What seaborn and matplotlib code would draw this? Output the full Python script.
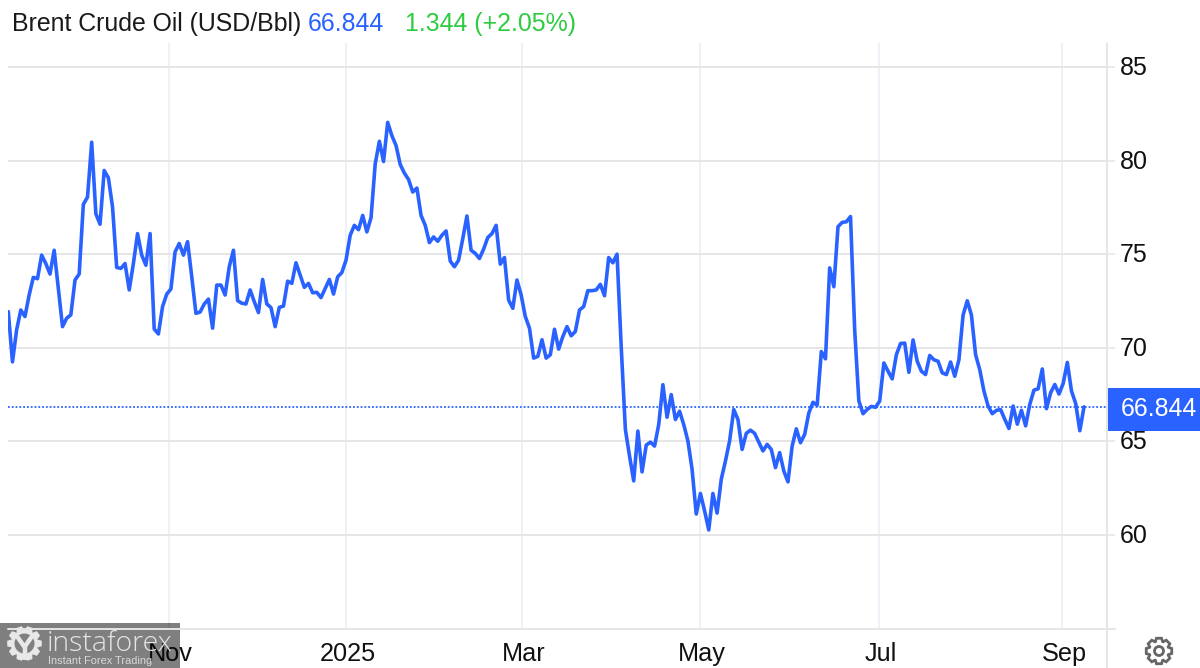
import numpy as np
import matplotlib
matplotlib.use('Agg')
import matplotlib.pyplot as plt
from matplotlib.patches import Rectangle, Polygon, Circle
from matplotlib.transforms import ScaledTranslation
import seaborn as sns

# Daily Brent close (trading days, oldest first)
prices = [
    71.93, 69.25, 70.96, 72.02, 71.67, 72.82, 73.76, 73.69, 74.95, 74.50, 73.94, 75.21,
    73.17, 71.13, 71.58, 71.76, 73.62, 73.94, 77.66, 78.05, 80.98, 77.16, 76.60, 79.47,
    79.08, 77.52, 74.29, 74.24, 74.50, 73.09, 74.50, 76.10, 74.95, 74.41, 76.10, 71.00,
    70.74, 72.20, 72.87, 73.14, 75.12, 75.57, 74.95, 75.67, 73.79, 71.84, 71.91, 72.34,
    72.60, 71.05, 73.35, 73.35, 72.82, 74.33, 75.21, 72.52, 72.38, 72.34, 73.09, 72.46,
    71.88, 73.65, 72.34, 72.15, 71.13, 72.16, 72.23, 73.56, 73.44, 74.54, 73.88, 73.23,
    73.44, 72.94, 72.96, 72.68, 73.17, 73.65, 72.87, 73.79, 74.02, 74.68, 76.01, 76.54,
    76.31, 77.07, 76.19, 76.95, 79.82, 81.03, 79.95, 82.04, 81.33, 80.80, 79.79, 79.33,
    78.99, 78.32, 78.53, 77.07, 76.54, 75.62, 75.92, 75.69, 76.01, 76.24, 74.63, 74.33,
    74.68, 75.83, 77.04, 75.21, 75.04, 74.77, 75.27, 75.89, 76.10, 76.54, 74.47, 74.82,
    72.55, 72.11, 73.62, 72.82, 71.67, 71.05, 69.45, 69.54, 70.43, 69.45, 69.63, 70.99,
    69.93, 70.60, 71.13, 70.64, 70.87, 72.02, 72.20, 73.05, 73.05, 73.09, 73.39, 72.78,
    74.82, 74.54, 75.00, 70.07, 65.64, 64.22, 62.89, 65.55, 63.37, 64.80, 64.96, 64.75,
    65.90, 68.03, 66.29, 67.50, 66.17, 66.61, 65.90, 65.02, 63.51, 61.12, 62.22, 61.29,
    60.27, 62.22, 61.17, 62.98, 63.95, 65.02, 66.70, 66.17, 64.57, 65.43, 65.60, 65.43,
    64.96, 64.49, 64.84, 64.57, 63.60, 64.40, 63.42, 62.84, 64.75, 65.67, 64.93, 65.37,
    66.52, 67.09, 66.93, 69.80, 69.41, 74.27, 73.26, 76.47, 76.70, 76.73, 77.01, 70.95,
    67.16, 66.48, 66.71, 66.87, 66.82, 67.16, 69.19, 68.75, 68.34, 69.63, 70.23, 70.25,
    68.69, 70.42, 69.28, 68.75, 68.57, 69.59, 69.36, 69.28, 68.66, 68.57, 69.24, 68.48,
    69.36, 71.75, 72.51, 71.75, 69.63, 68.83, 67.69, 66.89, 66.48, 66.66, 66.70, 66.18,
    65.69, 66.89, 65.92, 66.66, 65.83, 66.98, 67.74, 67.81, 68.87, 66.75, 67.60, 68.04,
    67.53, 68.09, 69.22, 67.69, 67.03, 65.57, 66.844,
]
y_ticks = [60, 65, 70, 75, 80, 85]
month_labels = ['Nov', '2025', 'Mar', 'May', 'Jul', 'Sep']
month_positions = [38.5, 81.0, 123.2, 165.9, 208.9, 252.8]
last_price = '66.844'
change_text = '1.344 (+2.05%)'

BLUE = '#2962ff'
GRID = '#e6e6e6'
VGRID = '#e9f0f6'
TEXT = '#1a1a1a'
W, H = 1200, 668

sns.set_theme(style='white')
plt.rcParams['font.family'] = ['Liberation Sans', 'DejaVu Sans']

days = np.arange(len(prices))
step = (1084 - 8.3) / (len(prices) - 1)

fig = plt.figure(figsize=(W / 100, H / 100), dpi=100)
ax = fig.add_axes([8 / W, 1 - 629 / H, (1107 - 8) / W, (629 - 43) / H])

sns.lineplot(x=days, y=prices, ax=ax, color=BLUE, linewidth=2.6, errorbar=None, zorder=3)
ax.axhline(prices[-1], color=BLUE, linewidth=1.3, linestyle=(0, (1, 1.1)), zorder=2)

ax.set_xlim(-0.3 / step, (1107 - 8.3) / step)
ax.set_ylim(54.98, 86.28)
ax.set_xticks(month_positions)
ax.set_xticklabels(month_labels)
ax.set_yticks(y_ticks)
ax.yaxis.tick_right()
ax.set_xlabel('')
ax.set_ylabel('')

ax.grid(True, axis='y', color=GRID, linewidth=1.4)
ax.grid(True, axis='x', color=VGRID, linewidth=1.2)
ax.set_axisbelow(True)
ax.tick_params(axis='y', length=6, width=1.2, color=GRID, pad=3, labelsize=18, labelcolor='#111111',
               right=True, left=False, labelright=True, labelleft=False)
ax.tick_params(axis='x', length=0, pad=9.5, labelsize=18.2, labelcolor='#111111')
sns.despine(ax=ax, top=True, left=True, right=True, bottom=True)

# tick labels sit a touch off their gridlines in the original
for lab in ax.get_xticklabels():
    lab.set_transform(lab.get_transform() + ScaledTranslation(1.5 / 100, 0, fig.dpi_scale_trans))
for lab in ax.get_yticklabels():
    lab.set_transform(lab.get_transform() + ScaledTranslation(0, 1.5 / 100, fig.dpi_scale_trans))

# overlay in pixel coordinates for header, price tag, logo
ov = fig.add_axes([0, 0, 1, 1], zorder=5)
ov.set_xlim(0, W)
ov.set_ylim(H, 0)
ov.axis('off')
ov.patch.set_alpha(0)

ov.plot([8, 1115], [629, 629], color=GRID, lw=1.4)
ov.plot([1107, 1107], [43, H], color=GRID, lw=1.4)

ov.text(12, 31, 'Brent Crude Oil (USD/Bbl)', fontsize=17.9, color=TEXT, va='baseline')
ov.text(308, 31, last_price, fontsize=17.9, color=BLUE, va='baseline')
ov.text(405, 31, change_text, fontsize=17.9, color='#2ecc40', va='baseline')

ov.add_patch(Rectangle((1108, 388), 92, 43, color=BLUE, lw=0))
ov.text(1121, 409.5, last_price, fontsize=17.9, color='white', va='center')


def gear_outline(cx, cy, r_out, r_in, teeth):
    pts = []
    for i in range(teeth):
        a = 2 * np.pi * i / teeth
        w = np.pi / teeth
        for da, r in [(-w * 0.95, r_in), (-w * 0.5, r_out), (w * 0.5, r_out), (w * 0.95, r_in)]:
            pts.append((cx + r * np.cos(a + da), cy + r * np.sin(a + da)))
    return pts


# settings icon
ov.add_patch(Polygon(gear_outline(1159, 651, 13, 10, 8), closed=True, fc='none', ec='#666666', lw=2.0))
ov.add_patch(Circle((1159, 651), 4.5, fc='none', ec='#666666', lw=2.0))

# watermark
ov.add_patch(Rectangle((0, 623), 180, 45, color='black', alpha=0.5, lw=0))
ov.add_patch(Polygon(gear_outline(24.5, 643.5, 17.5, 13.5, 10), closed=True, fc='#e8e8e8', ec='none'))
ov.add_patch(Circle((24.5, 643.5), 10, fc='#808080', ec='none'))
ov.plot([24.5, 24.5], [647, 660], color='#e8e8e8', lw=3.2, solid_capstyle='butt')
ov.plot([17.5, 24.5, 31.5], [637, 647, 637], color='#e8e8e8', lw=3.2)
ov.text(47, 651, 'instaforex', fontsize=20.5, color='#e4e4e4', family=['Open Sans', 'DejaVu Sans'],
        fontweight='light', va='baseline')
ov.text(48, 663.5, 'Instant Forex Trading', fontsize=7.9, color='#d8d8d8', va='baseline')

fig.savefig('out.png', dpi=100, facecolor='white')
